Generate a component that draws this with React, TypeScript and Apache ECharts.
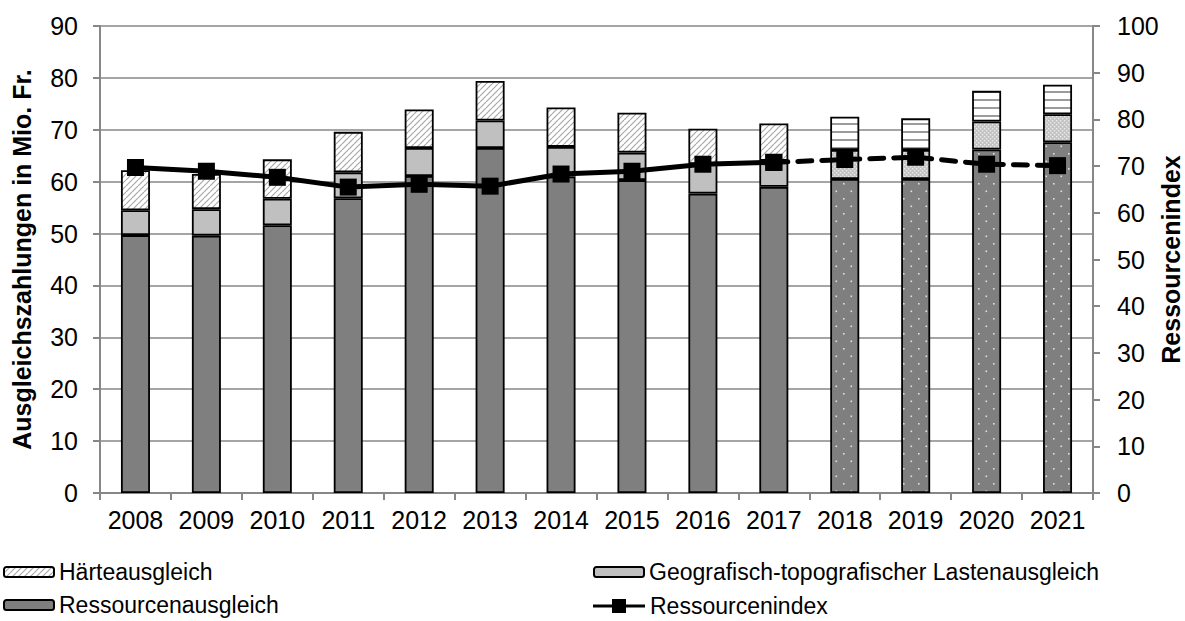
import React, { useEffect, useRef } from "react";
import * as echarts from "echarts";

const categories = ["2008", "2009", "2010", "2011", "2012", "2013", "2014", "2015", "2016", "2017", "2018", "2019", "2020", "2021"];
const ressourcenausgleich = [49.7, 49.6, 51.6, 56.8, 61.1, 66.5, 61.0, 60.3, 57.7, 59.0, 60.5, 60.5, 66.2, 67.6];
const lastenausgleich = [4.8, 5.1, 5.1, 5.0, 5.4, 5.3, 5.7, 5.3, 5.7, 5.0, 5.6, 5.6, 5.4, 5.4];
const haerteausgleich = [7.7, 6.8, 7.6, 7.8, 7.4, 7.6, 7.6, 7.7, 6.8, 7.2, 6.4, 6.1, 5.9, 5.7];
const indexActual = [69.7, 68.9, 67.6, 65.5, 66.1, 65.7, 68.3, 68.9, 70.4, 70.8, null, null, null, null];
const indexForecast = [null, null, null, null, null, null, null, null, null, 70.8, 71.4, 71.9, 70.4, 70.1];
const firstForecast = 10;

const FONT = "'Liberation Sans', Arial, sans-serif";

function makeCanvas(w: number, h: number, draw: (ctx: CanvasRenderingContext2D) => void) {
  const c = document.createElement("canvas");
  c.width = w;
  c.height = h;
  const ctx = c.getContext("2d")!;
  draw(ctx);
  return c;
}

function patterns() {
  const hatch = makeCanvas(6, 6, (ctx) => {
    ctx.fillStyle = "#ffffff";
    ctx.fillRect(0, 0, 6, 6);
    ctx.strokeStyle = "#a8a8a8";
    ctx.lineWidth = 1.2;
    for (let k = -1; k <= 1; k++) {
      ctx.beginPath();
      ctx.moveTo(k * 6, 6);
      ctx.lineTo(k * 6 + 6, 0);
      ctx.stroke();
    }
  });
  const hstripes = makeCanvas(8, 8, (ctx) => {
    ctx.fillStyle = "#ffffff";
    ctx.fillRect(0, 0, 8, 8);
    ctx.fillStyle = "#9c9c9c";
    ctx.fillRect(0, 3, 8, 2);
  });
  const darkDots = makeCanvas(15, 15, (ctx) => {
    ctx.fillStyle = "#7f7f7f";
    ctx.fillRect(0, 0, 15, 15);
    ctx.fillStyle = "#e0e0e0";
    ctx.fillRect(3, 3, 1.6, 1.6);
    ctx.fillRect(10.5, 10.5, 1.6, 1.6);
  });
  const lightDots = makeCanvas(4, 4, (ctx) => {
    ctx.fillStyle = "#c4c4c4";
    ctx.fillRect(0, 0, 4, 4);
    ctx.fillStyle = "#ececec";
    ctx.fillRect(0, 0, 1.3, 1.3);
    ctx.fillRect(2, 2, 1.3, 1.3);
  });
  return { hatch, hstripes, darkDots, lightDots };
}

export default function App() {
  const ref = useRef<HTMLDivElement>(null);
  useEffect(() => {
    document.body.style.margin = "0";
    const chart = echarts.init(ref.current!, null, { renderer: "svg" });
    const p = patterns();
    const pat = (img: HTMLCanvasElement) => ({ image: img, repeat: "repeat" });
    const border = { borderColor: "#000000", borderWidth: 1.8 };

    const barData = (vals: number[], forecastImg: HTMLCanvasElement) =>
      vals.map((v, i) =>
        i >= firstForecast ? { value: v, itemStyle: { color: pat(forecastImg) } } : v
      );

    const axisGrey = "#878787";
    const legendText = { fontSize: 23, color: "#000", fontFamily: FONT, lineHeight: 24 };
    const legendBase = {
      orient: "vertical",
      top: 560,
      padding: 0,
      itemWidth: 50,
      itemHeight: 10,
      itemGap: 9,
      textStyle: legendText,
    };
    const option: any = {
      animation: false,
      textStyle: { fontFamily: FONT },
      grid: { left: 100, right: 92, top: 26, bottom: 128, containLabel: false, outerBoundsMode: "none" },
      legend: [
        { ...legendBase, left: 3, data: ["Härteausgleich", "Ressourcenausgleich"] },
        { ...legendBase, left: 593, data: ["Geografisch-topografischer Lastenausgleich"] },
        {
          orient: "vertical",
          left: 593,
          top: 594,
          padding: 0,
          itemWidth: 52,
          itemHeight: 14,
          textStyle: legendText,
          itemStyle: { color: "#000", borderWidth: 0 },
          lineStyle: { width: 0 },
          data: [
            {
              name: "Ressourcenindex",
              icon: "path://M0,5.5 H52 V8.5 H0 Z M19,0 H33 V14 H19 Z",
            },
          ],
        },
      ],
      xAxis: {
        type: "category",
        data: categories,
        boundaryGap: true,
        axisLine: { lineStyle: { color: axisGrey, width: 2 } },
        axisTick: { show: true, length: 7, lineStyle: { color: axisGrey, width: 2 } },
        axisLabel: { fontSize: 25, color: "#000", margin: 14, fontFamily: FONT, interval: 0 },
      },
      yAxis: [
        {
          type: "value",
          min: 0,
          max: 90,
          interval: 10,
          name: "Ausgleichszahlungen in Mio. Fr.",
          nameLocation: "middle",
          nameGap: 66,
          nameMoveOverlap: false,
          nameTextStyle: { fontSize: 25, fontWeight: "bold", color: "#000", fontFamily: FONT },
          axisLine: { show: true, lineStyle: { color: axisGrey, width: 2 } },
          axisTick: { show: true, length: 7, lineStyle: { color: axisGrey, width: 2 } },
          axisLabel: { fontSize: 25, color: "#000", margin: 22, fontFamily: FONT },
          splitLine: { show: true, lineStyle: { color: axisGrey, width: 1.5 } },
        },
        {
          type: "value",
          min: 0,
          max: 100,
          interval: 10,
          name: "Ressourcenindex",
          nameLocation: "middle",
          nameGap: 65,
          nameMoveOverlap: false,
          nameRotate: 90,
          nameTextStyle: { fontSize: 25, fontWeight: "bold", color: "#000", fontFamily: FONT },
          axisLine: { show: true, lineStyle: { color: axisGrey, width: 2 } },
          axisTick: { show: true, length: 7, lineStyle: { color: axisGrey, width: 2 } },
          axisLabel: { fontSize: 25, color: "#000", margin: 24, fontFamily: FONT },
          splitLine: { show: false },
        },
      ],
      series: [
        {
          name: "Ressourcenausgleich",
          type: "bar",
          stack: "total",
          barWidth: 29,
          itemStyle: { color: "#7f7f7f", ...border },
          data: barData(ressourcenausgleich, p.darkDots),
        },
        {
          name: "Geografisch-topografischer Lastenausgleich",
          type: "bar",
          stack: "total",
          barWidth: 29,
          itemStyle: { color: "#c0c0c0", ...border },
          data: barData(lastenausgleich, p.lightDots),
        },
        {
          name: "Härteausgleich",
          type: "bar",
          stack: "total",
          barWidth: 29,
          itemStyle: { color: pat(p.hatch), ...border },
          data: barData(haerteausgleich, p.hstripes),
        },
        {
          name: "Ressourcenindex",
          type: "line",
          yAxisIndex: 1,
          z: 5,
          symbol: "rect",
          symbolSize: 17,
          itemStyle: { color: "#000" },
          lineStyle: { color: "#000", width: 5 },
          data: indexActual,
        },
        {
          name: "Ressourcenindex Prognose",
          type: "line",
          yAxisIndex: 1,
          z: 5,
          symbol: "rect",
          symbolSize: 17,
          itemStyle: { color: "#000" },
          lineStyle: { color: "#000", width: 5, type: [14, 10], cap: "round" },
          data: indexForecast,
        },
      ],
    };
    chart.setOption(option);
    return () => chart.dispose();
  }, []);
  return <div ref={ref} style={{ width: 1185, height: 621 }} />;
}
